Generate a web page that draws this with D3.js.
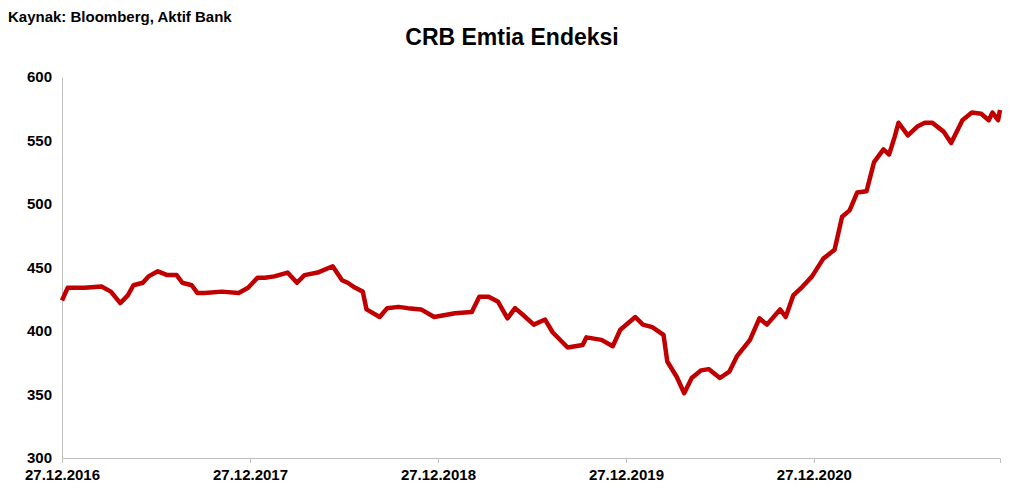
<!DOCTYPE html>
<html>
<head>
<meta charset="utf-8">
<script src="https://cdn.jsdelivr.net/npm/d3@7"></script>
<style>
  body { margin: 0; background: #fff; }
  text { font-family: "Liberation Sans", Arial, sans-serif; font-weight: bold; }
</style>
</head>
<body>
<div id="chart"></div>
<script>
const width = 1022;
const height = 502;

// years elapsed since 27.12.2016
const t = [0, .03, .12, .21, .26, .31, .35, .38, .43, .46, .51, .56, .61, .64, .69, .72, .76, .85, .94, .99,
  1.04, 1.08, 1.13, 1.20, 1.25, 1.29, 1.36, 1.44, 1.49, 1.52, 1.56, 1.60, 1.62, 1.69, 1.73, 1.79, 1.84, 1.91, 1.98,
  2.09, 2.18, 2.22, 2.27, 2.32, 2.37, 2.41, 2.45, 2.51, 2.57, 2.61, 2.69, 2.77, 2.79, 2.87, 2.93, 2.97,
  3.05, 3.09, 3.14, 3.20, 3.22, 3.27, 3.31, 3.35, 3.40, 3.44, 3.50, 3.55, 3.59, 3.66, 3.71, 3.75, 3.82, 3.85, 3.89, 3.94, 3.99,
  4.05, 4.11, 4.15, 4.19, 4.23, 4.28, 4.32, 4.37, 4.40, 4.43, 4.45, 4.50, 4.55, 4.59, 4.63, 4.69, 4.73, 4.79, 4.84, 4.89, 4.93, 4.95, 4.98, 4.99];
const values = [424, 434, 434, 435, 431, 422, 428, 436, 438, 443, 447, 444, 444, 438, 436, 430, 430, 431, 430, 434,
  442, 442, 443, 446, 438, 444, 446, 451, 440, 438, 434, 431, 417, 411, 418, 419, 418, 417, 411,
  414, 415, 427, 427, 423, 410, 418, 413, 405, 409, 399, 387, 389, 395, 393, 388, 401,
  411, 405, 403, 397, 376, 364, 351, 363, 369, 370, 363, 368, 380, 393, 410, 405, 417, 411, 428, 435, 443,
  457, 464, 490, 495, 509, 510, 533, 543, 539, 553, 564, 554, 561, 564, 564, 557, 548, 566, 572, 571, 566, 572, 566, 574];
const data = t.map((d, i) => ({ t: d, v: values[i] }));

const xTicks = [0, 1, 2, 3, 4];
const xLabels = ["27.12.2016", "27.12.2017", "27.12.2018", "27.12.2019", "27.12.2020"];
const yTicks = [300, 350, 400, 450, 500, 550, 600];

const x = d3.scaleLinear().domain([0, 4.99]).range([62, 1000]);
const y = d3.scaleLinear().domain([300, 600]).range([458, 77]);

const svg = d3.select("#chart").append("svg")
  .attr("width", width)
  .attr("height", height)
  .attr("viewBox", [0, 0, width, height]);

svg.append("text")
  .attr("x", 8).attr("y", 22)
  .attr("font-size", 15)
  .text("Kaynak: Bloomberg, Aktif Bank");

svg.append("text")
  .attr("x", 512).attr("y", 45)
  .attr("text-anchor", "middle")
  .attr("font-size", 23)
  .text("CRB Emtia Endeksi");

const yAxis = svg.append("g")
  .attr("transform", `translate(${x.range()[0]},0)`)
  .call(d3.axisLeft(y).tickValues(yTicks).tickSize(0).tickPadding(10));
yAxis.select(".domain").attr("stroke", "#bfbfbf");
yAxis.selectAll("text").attr("font-size", 15).attr("fill", "#000");

const xAxis = svg.append("g")
  .attr("transform", `translate(0,${y(300)})`)
  .call(d3.axisBottom(x).tickValues(xTicks).tickFormat((d, i) => xLabels[i]).tickSize(5).tickPadding(6));
xAxis.select(".domain").attr("stroke", "#bfbfbf");
xAxis.selectAll("line").attr("stroke", "#bfbfbf");
xAxis.selectAll("text").attr("font-size", 15).attr("fill", "#000");

svg.append("path")
  .datum(data)
  .attr("fill", "none")
  .attr("stroke", "#c00000")
  .attr("stroke-width", 4.5)
  .attr("stroke-linejoin", "round")
  .attr("d", d3.line().x(d => x(d.t)).y(d => y(d.v)));
</script>
</body>
</html>
